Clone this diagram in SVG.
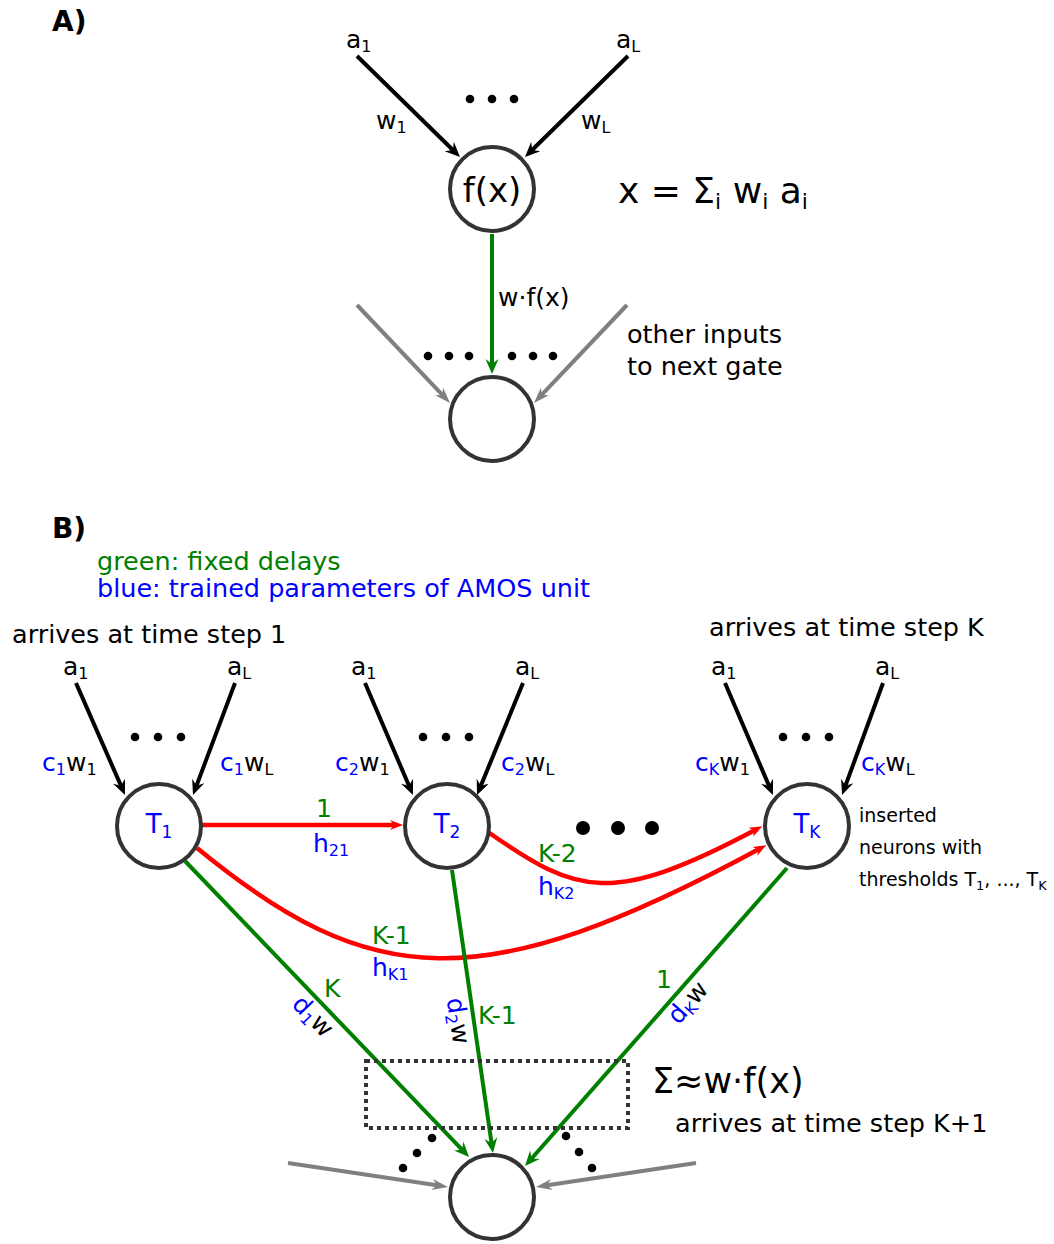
<svg xmlns="http://www.w3.org/2000/svg" width="1054" height="1244" viewBox="0 0 1054 1244">
<style>
svg{font-family:"DejaVu Sans","Liberation Sans",sans-serif;font-size:25px}
text{fill:#000}
.b{fill:#0000ff}
.g{fill:#008000}
.s{font-size:16px}
.node{fill:#fff;stroke:#333;stroke-width:4}
.k{stroke:#000;stroke-width:4;fill:none}
.gr{stroke:#008000;stroke-width:4;fill:none}
.rd{stroke:#ff0000;stroke-width:4.5;fill:none}
.gy{stroke:#808080;stroke-width:4;fill:none}
.dot{fill:#000}
</style>
<defs>
<marker id="ak" markerUnits="userSpaceOnUse" viewBox="-16 -8 18 16" markerWidth="18" markerHeight="16" refX="-6" refY="0" orient="auto" overflow="visible"><path d="M0,0 L-15,-6.5 L-10,0 L-15,6.5 Z" fill="#000"/></marker>
<marker id="ag" markerUnits="userSpaceOnUse" viewBox="-16 -8 18 16" markerWidth="18" markerHeight="16" refX="-6" refY="0" orient="auto" overflow="visible"><path d="M0,0 L-15,-6.5 L-10,0 L-15,6.5 Z" fill="#008000"/></marker>
<marker id="ar" markerUnits="userSpaceOnUse" viewBox="-16 -8 18 16" markerWidth="18" markerHeight="16" refX="-6" refY="0" orient="auto" overflow="visible"><path d="M0,0 L-13,-5 L-9,0 L-13,5 Z" fill="#ff0000"/></marker>
<marker id="ay" markerUnits="userSpaceOnUse" viewBox="-18 -8 20 16" markerWidth="20" markerHeight="16" refX="-6" refY="0" orient="auto" overflow="visible"><path d="M0,0 L-16,-5.5 L-11,0 L-16,5.5 Z" fill="#808080"/></marker>
</defs>

<!-- Panel A labels -->
<text x="52" y="31" font-weight="bold" font-size="28">A)</text>
<text x="346" y="48">a<tspan class="s" dy="4">1</tspan></text>
<text x="616" y="48">a<tspan class="s" dy="4">L</tspan></text>
<text x="376" y="129">w<tspan class="s" dy="4">1</tspan></text>
<text x="581" y="129">w<tspan class="s" dy="4">L</tspan></text>
<text x="618" y="203" font-size="36">x = Σ<tspan font-size="22" dy="6">i</tspan><tspan dy="-6"> w</tspan><tspan font-size="22" dy="6">i</tspan><tspan dy="-6"> a</tspan><tspan font-size="22" dy="6">i</tspan></text>
<text x="498" y="306">w·f(x)</text>
<text x="627" y="343" font-size="25.5">other inputs</text>
<text x="627" y="375" font-size="25.5">to next gate</text>
<g id="dotsA">
<circle class="dot" cx="470" cy="99" r="4.3"/><circle class="dot" cx="492" cy="99" r="4.3"/><circle class="dot" cx="514" cy="99" r="4.3"/>
<circle class="dot" cx="428" cy="356" r="4.3"/><circle class="dot" cx="449" cy="356" r="4.3"/><circle class="dot" cx="469" cy="356" r="4.3"/>
<circle class="dot" cx="512" cy="356" r="4.3"/><circle class="dot" cx="533" cy="356" r="4.3"/><circle class="dot" cx="553" cy="356" r="4.3"/>
</g>

<!-- Panel B labels -->
<text x="52" y="538" font-weight="bold" font-size="28">B)</text>
<text x="97" y="570" class="g" font-size="25.5">green: fixed delays</text>
<text x="97" y="597" class="b" font-size="25.5">blue: trained parameters of AMOS unit</text>
<text x="12" y="643" font-size="25.5">arrives at time step 1</text>
<text x="709" y="636" font-size="25.5">arrives at time step K</text>

<text x="63" y="675">a<tspan class="s" dy="4">1</tspan></text>
<text x="227" y="675">a<tspan class="s" dy="4">L</tspan></text>
<text x="351" y="675">a<tspan class="s" dy="4">1</tspan></text>
<text x="515" y="675">a<tspan class="s" dy="4">L</tspan></text>
<text x="711" y="675">a<tspan class="s" dy="4">1</tspan></text>
<text x="875" y="675">a<tspan class="s" dy="4">L</tspan></text>

<text x="42" y="771"><tspan class="b">c</tspan><tspan class="s b" dy="4">1</tspan><tspan dy="-4">w</tspan><tspan class="s" dy="4">1</tspan></text>
<text x="220" y="771"><tspan class="b">c</tspan><tspan class="s b" dy="4">1</tspan><tspan dy="-4">w</tspan><tspan class="s" dy="4">L</tspan></text>
<text x="335" y="771"><tspan class="b">c</tspan><tspan class="s b" dy="4">2</tspan><tspan dy="-4">w</tspan><tspan class="s" dy="4">1</tspan></text>
<text x="501" y="771"><tspan class="b">c</tspan><tspan class="s b" dy="4">2</tspan><tspan dy="-4">w</tspan><tspan class="s" dy="4">L</tspan></text>
<text x="695" y="771"><tspan class="b">c</tspan><tspan class="s b" dy="4">K</tspan><tspan dy="-4">w</tspan><tspan class="s" dy="4">1</tspan></text>
<text x="861" y="771"><tspan class="b">c</tspan><tspan class="s b" dy="4">K</tspan><tspan dy="-4">w</tspan><tspan class="s" dy="4">L</tspan></text>

<g id="dotsB">
<circle class="dot" cx="135" cy="737" r="4.3"/><circle class="dot" cx="158" cy="737" r="4.3"/><circle class="dot" cx="181" cy="737" r="4.3"/>
<circle class="dot" cx="423" cy="737" r="4.3"/><circle class="dot" cx="446" cy="737" r="4.3"/><circle class="dot" cx="469" cy="737" r="4.3"/>
<circle class="dot" cx="783" cy="737" r="4.3"/><circle class="dot" cx="806" cy="737" r="4.3"/><circle class="dot" cx="829" cy="737" r="4.3"/>
<circle class="dot" cx="583" cy="828" r="7"/><circle class="dot" cx="618" cy="828" r="7"/><circle class="dot" cx="652" cy="828" r="7"/>
<circle class="dot" cx="432" cy="1138" r="4.3"/><circle class="dot" cx="417" cy="1153" r="4.3"/><circle class="dot" cx="403" cy="1168" r="4.3"/>
<circle class="dot" cx="566" cy="1136" r="4.3"/><circle class="dot" cx="579" cy="1152" r="4.3"/><circle class="dot" cx="592" cy="1168" r="4.3"/>
</g>

<text x="859" y="822" font-size="19">inserted</text>
<text x="859" y="854" font-size="19">neurons with</text>
<text x="859" y="886" font-size="19">thresholds T<tspan font-size="13" dy="4">1</tspan><tspan dy="-4">, ..., T</tspan><tspan font-size="13" dy="4">K</tspan></text>

<!-- connector labels -->
<text x="316" y="817" class="g">1</text>
<text x="313" y="852" class="b">h<tspan class="s" dy="4">21</tspan></text>
<text x="538" y="862" class="g">K-2</text>
<text x="538" y="895" class="b">h<tspan class="s" dy="4">K2</tspan></text>
<text x="372" y="944" class="g">K-1</text>
<text x="372" y="976" class="b">h<tspan class="s" dy="4">K1</tspan></text>
<text x="324" y="997" class="g">K</text>
<text x="478" y="1024" class="g">K-1</text>
<text x="656" y="988" class="g">1</text>
<text transform="translate(307,1022) rotate(46)" text-anchor="middle"><tspan class="b">d</tspan><tspan class="s b" dy="4">1</tspan><tspan dy="-4">w</tspan></text>
<text transform="translate(450,1022) rotate(82)" text-anchor="middle"><tspan class="b">d</tspan><tspan class="s b" dy="4">2</tspan><tspan dy="-4">w</tspan></text>
<text transform="translate(694,1008) rotate(-48.7)" text-anchor="middle"><tspan class="b">d</tspan><tspan class="s b" dy="4">K</tspan><tspan dy="-4">w</tspan></text>

<text x="652" y="1093" font-size="35">Σ≈w·f(x)</text>
<text x="675" y="1132" font-size="25.5">arrives at time step K+1</text>

<!-- connectors -->
<g id="connectors">
<line class="k" x1="357" y1="56" x2="455.7" y2="152.8" marker-end="url(#ak)"/>
<line class="k" x1="628" y1="56" x2="529.3" y2="152.8" marker-end="url(#ak)"/>
<line class="gr" x1="492" y1="234" x2="492" y2="368" marker-end="url(#ag)"/>
<line class="gy" x1="357" y1="305" x2="445.9" y2="398.6" marker-end="url(#ay)"/>
<line class="gy" x1="627" y1="305" x2="538.1" y2="398.6" marker-end="url(#ay)"/>

<line class="k" x1="76" y1="683" x2="122.6" y2="789.5" marker-end="url(#ak)"/>
<line class="k" x1="235" y1="683" x2="195.1" y2="789.4" marker-end="url(#ak)"/>
<line class="k" x1="365" y1="683" x2="410.6" y2="789.5" marker-end="url(#ak)"/>
<line class="k" x1="523" y1="683" x2="479.3" y2="789.5" marker-end="url(#ak)"/>
<line class="k" x1="725" y1="683" x2="770.6" y2="789.5" marker-end="url(#ak)"/>
<line class="k" x1="883" y1="683" x2="844.1" y2="789.4" marker-end="url(#ak)"/>

<line class="rd" x1="202" y1="825" x2="397" y2="825" marker-end="url(#ar)"/>
<path class="rd" d="M488,832 C578,895 612,906 757,829" marker-end="url(#ar)"/>
<path class="rd" d="M197,848 C370,990 480,1000 761,848" marker-end="url(#ar)"/>

<line class="gr" x1="185" y1="861" x2="464.9" y2="1152.6" marker-end="url(#ag)"/>
<line class="gr" x1="452" y1="870" x2="492.1" y2="1147" marker-end="url(#ag)"/>
<line class="gr" x1="787" y1="868" x2="529" y2="1161.5" marker-end="url(#ag)"/>

<line class="gy" x1="288" y1="1163" x2="442" y2="1186" marker-end="url(#ay)"/>
<line class="gy" x1="696" y1="1163" x2="542" y2="1186" marker-end="url(#ay)"/>

<rect x="366" y="1061" width="262" height="67" fill="none" stroke="#333" stroke-width="4" stroke-dasharray="4 4"/>
</g>

<!-- nodes -->
<g id="node-fx"><circle class="node" cx="492" cy="189" r="42"/><text x="492" y="202" font-size="34" text-anchor="middle">f(x)</text></g>
<g id="node-nextA"><circle class="node" cx="492" cy="419" r="42"/></g>
<g id="node-T1"><circle class="node" cx="159" cy="826" r="42"/><text x="159" y="833" font-size="26" text-anchor="middle" class="b">T<tspan font-size="17" dy="5">1</tspan></text></g>
<g id="node-T2"><circle class="node" cx="447" cy="826" r="42"/><text x="447" y="833" font-size="26" text-anchor="middle" class="b">T<tspan font-size="17" dy="5">2</tspan></text></g>
<g id="node-TK"><circle class="node" cx="807" cy="826" r="42"/><text x="807" y="833" font-size="26" text-anchor="middle" class="b">T<tspan font-size="17" dy="5">K</tspan></text></g>
<g id="node-nextB"><circle class="node" cx="492" cy="1197" r="42"/></g>
</svg>
